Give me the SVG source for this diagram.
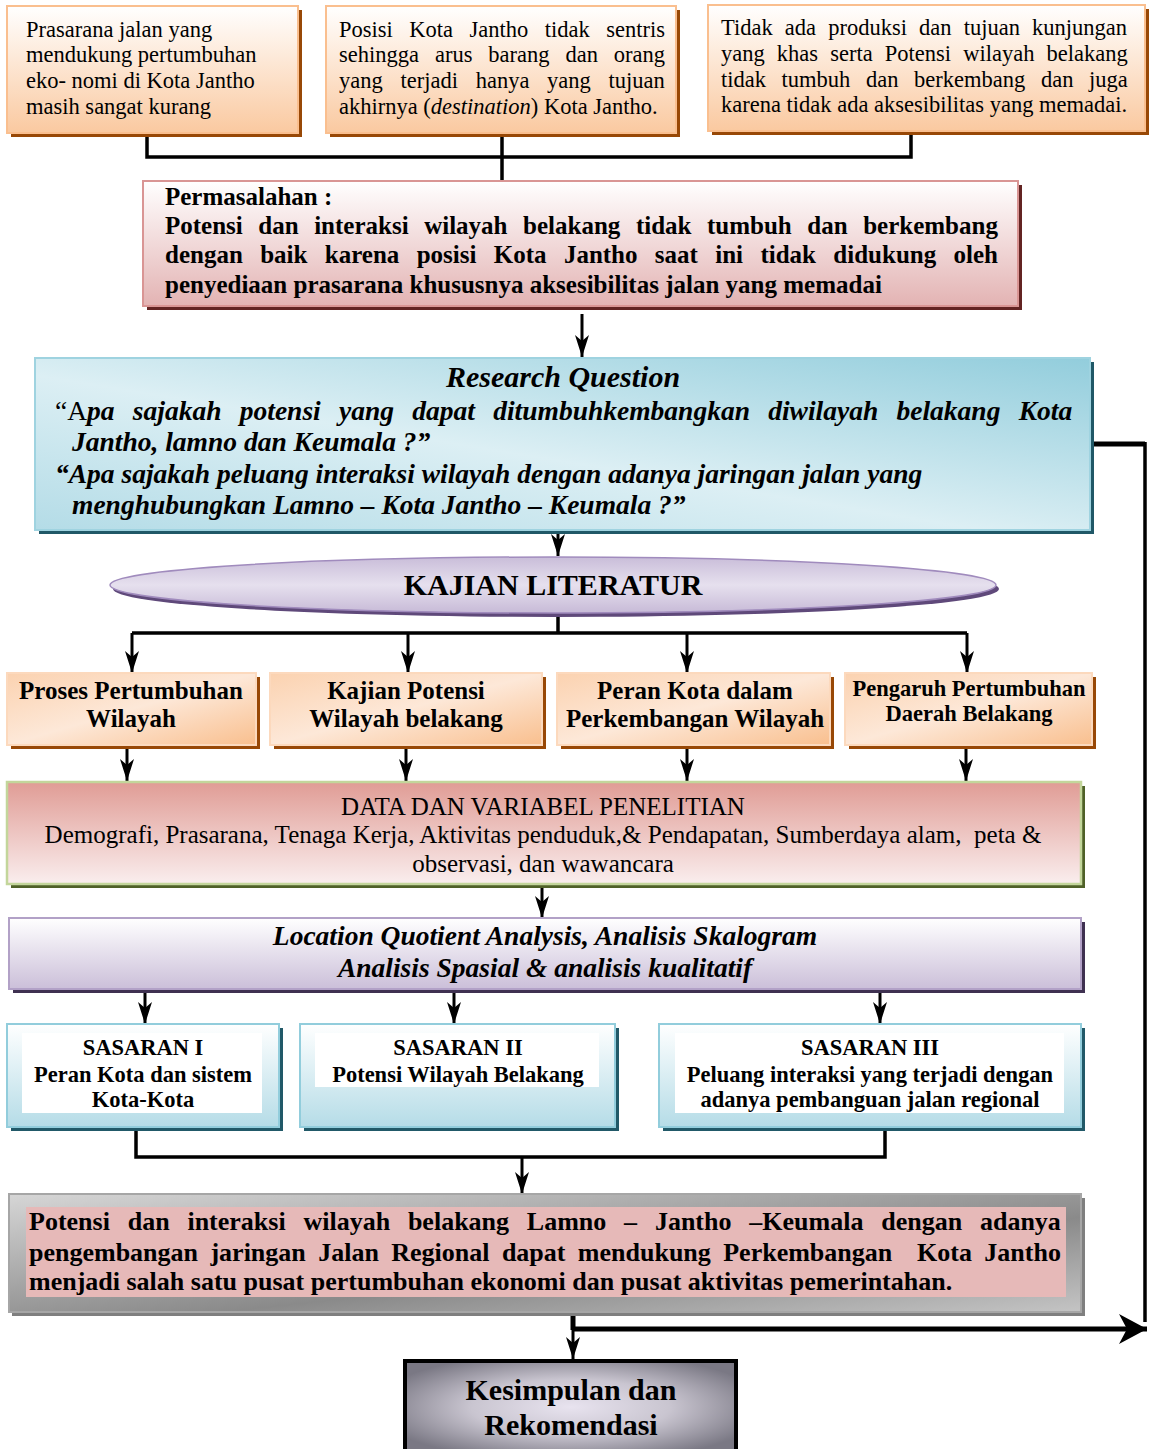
<svg xmlns="http://www.w3.org/2000/svg" width="1149" height="1449" viewBox="0 0 1149 1449">
<defs>
<linearGradient id="gPeach" x1="0" y1="0" x2="0" y2="1"><stop offset="0" stop-color="#ffffff"/><stop offset="1" stop-color="#fac9a0"/></linearGradient>
<linearGradient id="gPeach2" x1="0" y1="0" x2="1" y2="1"><stop offset="0" stop-color="#fbd2b0"/><stop offset="0.5" stop-color="#fde8d8"/><stop offset="1" stop-color="#f9bf8e"/></linearGradient>
<linearGradient id="gPink" x1="0" y1="0" x2="0" y2="1"><stop offset="0" stop-color="#ffffff"/><stop offset="1" stop-color="#e3b3b3"/></linearGradient>
<linearGradient id="gBlue" x1="1" y1="0" x2="0" y2="1"><stop offset="0" stop-color="#92cddc"/><stop offset="0.55" stop-color="#dcEff4"/><stop offset="1" stop-color="#b4dce7"/></linearGradient>
<linearGradient id="gLav" x1="0" y1="0" x2="0" y2="1"><stop offset="0" stop-color="#c9bdd9"/><stop offset="0.5" stop-color="#e6e0ee"/><stop offset="1" stop-color="#c7bad7"/></linearGradient>
<linearGradient id="gData" x1="0" y1="0" x2="0" y2="1"><stop offset="0" stop-color="#e09c95"/><stop offset="1" stop-color="#faeeee"/></linearGradient>
<linearGradient id="gLQ" x1="0" y1="0" x2="0" y2="1"><stop offset="0" stop-color="#ffffff"/><stop offset="1" stop-color="#cbbfd9"/></linearGradient>
<linearGradient id="gSas" x1="0" y1="0" x2="0" y2="1"><stop offset="0" stop-color="#ffffff"/><stop offset="1" stop-color="#b5dce7"/></linearGradient>
<linearGradient id="gGray" x1="0" y1="0" x2="1" y2="1"><stop offset="0" stop-color="#d6d6d6"/><stop offset="0.6" stop-color="#8a8a8a"/><stop offset="1" stop-color="#c4c4c4"/></linearGradient>
<radialGradient id="gKes" cx="0.5" cy="0.5" r="0.6"><stop offset="0" stop-color="#e8e3ef"/><stop offset="0.5" stop-color="#c9c5d0"/><stop offset="1" stop-color="#7a7884"/></radialGradient>
<marker id="arr" markerUnits="userSpaceOnUse" markerWidth="24" markerHeight="16" refX="22" refY="8" orient="auto" viewBox="0 0 24 16"><path d="M0,1 L22,8 L0,15 L6,8 z" fill="#000"/></marker>
<marker id="arrBig" markerUnits="userSpaceOnUse" markerWidth="30" markerHeight="32" refX="28" refY="16" orient="auto" viewBox="0 0 30 32"><path d="M0,1 L28,16 L0,31 L8,16 z" fill="#000"/></marker>
</defs>
<style>
.serif{font-family:"Liberation Serif","Times New Roman",serif;fill:#000}
.t20{font-size:22.5px}
.b22{font-size:25px;font-weight:bold}
.bf{font-size:26px;font-weight:bold}
.bi{font-weight:bold;font-style:italic}
.c{text-anchor:middle}
.line{fill:none;stroke:#000;stroke-width:3.5}
.arrow{fill:none;stroke:#000;stroke-width:3;marker-end:url(#arr)}
</style>
<rect width="1149" height="1449" fill="#ffffff"/>

<g id="connectors">
<path class="line" d="M147,134 V157 H911 V131"/>
<path class="line" d="M502,134 V181"/>
<path class="arrow" d="M582,314 V357"/>
<path class="arrow" d="M558,530 V556"/>
<path class="line" d="M558,613 V633"/>
<path class="line" d="M132,633 H967"/>
<path class="arrow" d="M132,633 V673"/>
<path class="arrow" d="M408,633 V673"/>
<path class="arrow" d="M687,633 V673"/>
<path class="arrow" d="M967,633 V673"/>
<path class="arrow" d="M127,748 V781"/>
<path class="arrow" d="M406,748 V781"/>
<path class="arrow" d="M687,748 V781"/>
<path class="arrow" d="M966,748 V781"/>
<path class="arrow" d="M542,888 V918"/>
<path class="arrow" d="M145,992 V1024"/>
<path class="arrow" d="M454,992 V1024"/>
<path class="arrow" d="M880,993 V1024"/>
<path class="line" d="M136,1130 V1157 H885 V1128"/>
<path class="arrow" d="M522,1157 V1194"/>
<path fill="none" stroke="#000" stroke-width="5" d="M1093,444 H1145"/>
<path fill="none" stroke="#000" stroke-width="3.5" d="M1145,442 V1322"/>
<path fill="none" stroke="#000" stroke-width="5" d="M573,1329 H1147" marker-end="url(#arrBig)"/>
<path fill="none" stroke="#000" stroke-width="5" d="M573,1314 V1330"/>
<path class="arrow" d="M573,1316 V1359"/>
</g>

<g id="box-prasarana">
<rect x="11" y="10" width="291" height="127" fill="#984806"/>
<rect x="7" y="6" width="291" height="127" fill="url(#gPeach)" stroke="#fabf8f" stroke-width="2"/>
<text class="serif t20" x="26" y="37">Prasarana jalan yang</text>
<text class="serif t20" x="26" y="62">mendukung pertumbuhan</text>
<text class="serif t20" x="26" y="88">eko- nomi di Kota Jantho</text>
<text class="serif t20" x="26" y="114">masih sangat kurang</text>
</g>

<g id="box-posisi">
<rect x="330" y="10" width="350" height="127" fill="#984806"/>
<rect x="326" y="6" width="350" height="127" fill="url(#gPeach)" stroke="#fabf8f" stroke-width="2"/>
<text class="serif t20" x="339" y="37" word-spacing="10.9">Posisi Kota Jantho tidak sentris</text>
<text class="serif t20" x="339" y="62" word-spacing="10.3">sehingga arus barang dan orang</text>
<text class="serif t20" x="339" y="88" word-spacing="12.1">yang terjadi hanya yang tujuan</text>
<text class="serif t20" x="339" y="114">akhirnya (<tspan font-style="italic">destination</tspan>) Kota Jantho.</text>
</g>

<g id="box-tidak-ada">
<rect x="712" y="9" width="437" height="126" fill="#984806"/>
<rect x="708" y="5" width="437" height="126" fill="url(#gPeach)" stroke="#fabf8f" stroke-width="2"/>
<text class="serif t20" x="721" y="35" word-spacing="6.5">Tidak ada produksi dan tujuan kunjungan</text>
<text class="serif t20" x="721" y="61" word-spacing="6.5">yang khas serta Potensi wilayah belakang</text>
<text class="serif t20" x="721" y="87" word-spacing="10">tidak tumbuh dan berkembang dan juga</text>
<text class="serif t20" x="721" y="112">karena tidak ada aksesibilitas yang memadai.</text>
</g>

<g id="box-permasalahan">
<rect x="147" y="185" width="875" height="125" fill="#632423"/>
<rect x="143" y="181" width="875" height="125" fill="url(#gPink)" stroke="#d99594" stroke-width="2"/>
<text class="serif b22" x="165" y="205">Permasalahan :</text>
<text class="serif b22" x="165" y="234" word-spacing="9.3">Potensi dan interaksi wilayah belakang tidak tumbuh dan berkembang</text>
<text class="serif b22" x="165" y="263" word-spacing="11.1">dengan baik karena posisi Kota Jantho saat ini tidak didukung oleh</text>
<text class="serif b22" x="165" y="293">penyediaan prasarana khususnya aksesibilitas jalan yang memadai</text>
</g>

<g id="box-research">
<rect x="39" y="362" width="1055" height="172" fill="#205867"/>
<rect x="35" y="358" width="1055" height="172" fill="url(#gBlue)" stroke="#9fd3e0" stroke-width="2"/>
<text class="serif bi c" x="563" y="387" font-size="30">Research Question</text>
<text class="serif" x="55" y="420" font-size="27.5" word-spacing="11.4">“A<tspan class="bi">pa sajakah potensi yang dapat ditumbuhkembangkan diwilayah belakang Kota</tspan></text>
<text class="serif bi" x="72" y="451" font-size="27.5">Jantho, lamno dan Keumala ?”</text>
<text class="serif bi" x="55" y="483" font-size="27.5">“Apa sajakah peluang interaksi wilayah dengan adanya jaringan jalan yang</text>
<text class="serif bi" x="72" y="514" font-size="27.5">menghubungkan Lamno – Kota Jantho – Keumala ?”</text>
</g>

<g id="kajian-literatur">
<ellipse cx="556" cy="589" rx="443" ry="28" fill="#5f497a"/>
<ellipse cx="553" cy="585" rx="443" ry="28" fill="url(#gLav)" stroke="#a08bbd" stroke-width="1.5"/>
<text class="serif c" x="553" y="595" font-size="30" font-weight="bold">KAJIAN LITERATUR</text>
</g>

<g id="box-proses">
<rect x="11" y="677" width="249" height="72" fill="#984806"/>
<rect x="7" y="673" width="249" height="72" fill="url(#gPeach2)" stroke="#fcd9bd" stroke-width="2"/>
<text class="serif b22 c" x="131" y="699">Proses Pertumbuhan</text>
<text class="serif b22 c" x="131" y="727">Wilayah</text>
</g>
<g id="box-kajian-potensi">
<rect x="274" y="677" width="272" height="72" fill="#984806"/>
<rect x="270" y="673" width="272" height="72" fill="url(#gPeach2)" stroke="#fcd9bd" stroke-width="2"/>
<text class="serif b22 c" x="406" y="699">Kajian Potensi</text>
<text class="serif b22 c" x="406" y="727">Wilayah belakang</text>
</g>
<g id="box-peran-kota">
<rect x="561" y="677" width="273" height="72" fill="#984806"/>
<rect x="557" y="673" width="273" height="72" fill="url(#gPeach2)" stroke="#fcd9bd" stroke-width="2"/>
<text class="serif b22 c" x="695" y="699">Peran Kota dalam</text>
<text class="serif b22 c" x="695" y="727">Perkembangan Wilayah</text>
</g>
<g id="box-pengaruh">
<rect x="849" y="677" width="247" height="72" fill="#984806"/>
<rect x="845" y="673" width="247" height="72" fill="url(#gPeach2)" stroke="#fcd9bd" stroke-width="2"/>
<text class="serif c" x="969" y="696" font-size="22.5" font-weight="bold">Pengaruh Pertumbuhan</text>
<text class="serif c" x="969" y="721" font-size="22.5" font-weight="bold">Daerah Belakang</text>
</g>

<g id="box-data">
<rect x="11" y="786" width="1074" height="102" fill="#4f6128"/>
<rect x="7" y="782" width="1074" height="102" fill="url(#gData)" stroke="#c3d69b" stroke-width="2.5"/>
<text class="serif c" x="543" y="815" font-size="25">DATA DAN VARIABEL PENELITIAN</text>
<text class="serif c" x="543" y="843" font-size="25" xml:space="preserve">Demografi, Prasarana, Tenaga Kerja, Aktivitas penduduk,&amp; Pendapatan, Sumberdaya alam,  peta &amp;</text>
<text class="serif c" x="543" y="872" font-size="25">observasi, dan wawancara</text>
</g>

<g id="box-analisis">
<rect x="13" y="922" width="1072" height="71" fill="#3f3151"/>
<rect x="9" y="918" width="1072" height="71" fill="url(#gLQ)" stroke="#b2a1c7" stroke-width="2"/>
<text class="serif bi c" x="545" y="945" font-size="27.5">Location Quotient Analysis, Analisis Skalogram</text>
<text class="serif bi c" x="545" y="977" font-size="27.5">Analisis Spasial &amp; analisis kualitatif</text>
</g>

<g id="sasaran-1">
<rect x="11" y="1028" width="272" height="103" fill="#215968"/>
<rect x="7" y="1024" width="272" height="103" fill="url(#gSas)" stroke="#92cddc" stroke-width="2"/>
<rect x="22" y="1033" width="240" height="80" fill="#ffffff"/>
<text class="serif c" x="143" y="1055" font-size="22.5" font-weight="bold">SASARAN I</text>
<text class="serif c" x="143" y="1082" font-size="22.5" font-weight="bold">Peran Kota dan sistem</text>
<text class="serif c" x="143" y="1107" font-size="22.5" font-weight="bold">Kota-Kota</text>
</g>
<g id="sasaran-2">
<rect x="304" y="1028" width="315" height="103" fill="#215968"/>
<rect x="300" y="1024" width="315" height="103" fill="url(#gSas)" stroke="#92cddc" stroke-width="2"/>
<rect x="315" y="1033" width="284" height="54" fill="#ffffff"/>
<text class="serif c" x="458" y="1055" font-size="22.5" font-weight="bold">SASARAN II</text>
<text class="serif c" x="458" y="1082" font-size="22.5" font-weight="bold">Potensi Wilayah Belakang</text>
</g>
<g id="sasaran-3">
<rect x="663" y="1028" width="422" height="103" fill="#215968"/>
<rect x="659" y="1024" width="422" height="103" fill="url(#gSas)" stroke="#92cddc" stroke-width="2"/>
<rect x="675" y="1033" width="389" height="80" fill="#ffffff"/>
<text class="serif c" x="870" y="1055" font-size="22.5" font-weight="bold">SASARAN III</text>
<text class="serif c" x="870" y="1082" font-size="22.5" font-weight="bold">Peluang interaksi yang terjadi dengan</text>
<text class="serif c" x="870" y="1107" font-size="22.5" font-weight="bold">adanya pembanguan jalan regional</text>
</g>

<g id="box-potensi-interaksi">
<rect x="12" y="1198" width="1073" height="118" fill="#7f7f7f"/>
<rect x="9" y="1194" width="1072" height="118" fill="url(#gGray)" stroke="#a6a6a6" stroke-width="2"/>
<rect x="26" y="1207" width="1040" height="90" fill="#e6b9b8"/>
<text class="serif bf" x="29" y="1230" word-spacing="11.3">Potensi dan interaksi wilayah belakang Lamno – Jantho –Keumala dengan adanya</text>
<text class="serif bf" x="29" y="1261" word-spacing="5.9" xml:space="preserve">pengembangan jaringan Jalan Regional dapat mendukung Perkembangan  Kota Jantho</text>
<text class="serif bf" x="29" y="1290">menjadi salah satu pusat pertumbuhan ekonomi dan pusat aktivitas pemerintahan.</text>
</g>

<g id="box-kesimpulan">
<rect x="405" y="1361" width="331" height="92" fill="url(#gKes)" stroke="#000" stroke-width="4"/>
<text class="serif c" x="571" y="1400" font-size="30" font-weight="bold">Kesimpulan dan</text>
<text class="serif c" x="571" y="1435" font-size="30" font-weight="bold">Rekomendasi</text>
</g>
</svg>
